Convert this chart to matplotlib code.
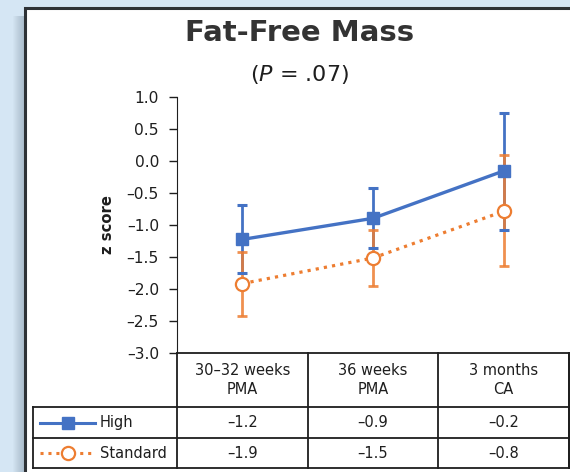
import numpy as np
import matplotlib.pyplot as plt
from matplotlib.patches import Rectangle

plt.rcParams['font.family'] = ['DejaVu Sans']
plt.rcParams['mathtext.fontset'] = 'dejavusans'

# data
categories = ['30\u201332 weeks\nPMA', '36 weeks\nPMA', '3 months\nCA']
groups = ['High', 'Standard']
high_mean = [-1.23, -0.90, -0.16]
high_lo = [-1.76, -1.37, -1.08]
high_hi = [-0.69, -0.43, 0.74]
std_mean = [-1.92, -1.52, -0.79]
std_lo = [-2.42, -1.95, -1.65]
std_hi = [-1.43, -1.09, 0.085]
yticks = [1.0, 0.5, 0.0, -0.5, -1.0, -1.5, -2.0, -2.5, -3.0]

BLUE = '#4472c4'
ORANGE = '#ed7d31'
TXT = '#1e1e1e'
W, H = 570, 472


def fx(px):
	return px / W


def fy(py):
	return 1 - py / H


def dash(v):
	return f'{v:.1f}'.replace('-', '\u2013')


fig = plt.figure(figsize=(W / 100, H / 100), dpi=100, facecolor='#d5e6f4')

# panel with a soft shadow on the left
for i in range(12):
	fig.add_artist(Rectangle((fx(13 + i), 0), fx(25 - 13 - i), fy(16), transform=fig.transFigure,
							 facecolor='#4e6276', alpha=0.028, lw=0, zorder=-3))
fig.add_artist(Rectangle((fx(25), -0.01), fx(W), fy(8) + 0.01, transform=fig.transFigure,
						 facecolor='white', edgecolor='#2e3236', lw=2.2, zorder=-2))

fig.text(fx(300), fy(33), 'Fat-Free Mass', ha='center', va='center',
		 fontsize=21, fontweight='bold', color='#333333')
fig.text(fx(300), fy(75), r'($\it{P}$ = .07)', ha='center', va='center', fontsize=16,
		 color=TXT)

# main plot
ax_l, ax_r, ax_t, ax_b = 177, 569, 96.7, 352.7
ax = fig.add_axes([fx(ax_l), fy(ax_b), fx(ax_r - ax_l), fy(ax_t) - fy(ax_b)])
ax.set_facecolor('none')
x = np.arange(len(categories))

hm = np.array(high_mean)
sm = np.array(std_mean)
h_err = [hm - np.array(high_lo), np.array(high_hi) - hm]
s_err = [sm - np.array(std_lo), np.array(std_hi) - sm]

_, hcaps, hbars = ax.errorbar(x, hm, yerr=h_err, fmt='none', ecolor=BLUE, elinewidth=2,
							  capsize=3.8, capthick=2.2, zorder=2)
ax.errorbar(x, sm, yerr=s_err, fmt='none', ecolor=ORANGE, elinewidth=2, alpha=0.85,
			capsize=3.5, capthick=2, zorder=3)
for c in hcaps:
	c.set_zorder(4)
ax.plot(x, sm, color=ORANGE, lw=2.3, linestyle=(0, (1, 1.6)), zorder=3)
ax.plot(x, sm, 'o', color=ORANGE, mfc='white', mew=1.6, ms=9.5, zorder=5)
ax.plot(x, hm, color=BLUE, lw=2.4, marker='s', ms=8, zorder=6)

ax.set_xlim(-0.5, 2.5)
ax.set_ylim(-3, 1)
ax.set_xticks([])
ax.set_yticks(yticks)
ax.set_yticklabels([dash(v) for v in yticks])
ax.tick_params(axis='y', length=6, width=1, pad=7, labelsize=11.2, color=TXT, labelcolor=TXT)
for s in ['top', 'right']:
	ax.spines[s].set_visible(False)
ax.spines['left'].set_color(TXT)
ax.spines['bottom'].set_visible(False)
ax.set_ylabel('z score', fontsize=10.6, fontweight='bold', labelpad=8, color=TXT)

# table under the plot
tb_l, tb_r, tb_t, tb_b = 33, 568.5, 352.7, 468.3
row1_t, row2_t = 406.7, 438.3
col_w = (ax_r - ax_l) / len(categories)
x0 = -0.5 - (ax_l - tb_l) / col_w
x1 = -0.5 + (tb_r - ax_l) / col_w
tab = fig.add_axes([fx(tb_l), fy(tb_b), fx(tb_r - tb_l), fy(tb_t) - fy(tb_b)])
tab.set_xlim(x0, x1)
tab.set_ylim(tb_b, tb_t)
tab.axis('off')


def tx(px):
	return x0 + (px - tb_l) / col_w


kw = dict(color=TXT, lw=1.3, clip_on=False)
tab.plot([-0.5, x1], [tb_t, tb_t], **kw)
tab.plot([x0, x1], [row1_t, row1_t], **kw)
tab.plot([x0, x1], [row2_t, row2_t], **kw)
tab.plot([x0, x1], [tb_b, tb_b], **kw)
tab.plot([x0, x0], [row1_t, tb_b], **kw)
for i in range(len(categories) + 1):
	tab.plot([i - 0.5, i - 0.5], [tb_t, tb_b], **kw)
tab.plot([x1, x1], [tb_t, tb_b], **kw)

for i, c in enumerate(categories):
	tab.text(i, (tb_t + row1_t) / 2 + 0.5, c, ha='center', va='center', fontsize=10.5,
			 linespacing=1.3, color=TXT)
	tab.text(i, (row1_t + row2_t) / 2, dash(high_mean[i]),
			 ha='center', va='center', fontsize=10.5, color=TXT)
	tab.text(i, (row2_t + tb_b) / 2, dash(std_mean[i]),
			 ha='center', va='center', fontsize=10.5, color=TXT)

# legend keys in the first column
ry = [(row1_t + row2_t) / 2, (row2_t + tb_b) / 2]
tab.plot([tx(40), tx(95)], [ry[0], ry[0]], color=BLUE, lw=2.2, clip_on=False)
tab.plot([tx(68)], [ry[0]], 's', color=BLUE, ms=8, clip_on=False)
tab.plot([tx(40), tx(95)], [ry[1], ry[1]], color=ORANGE, lw=2.2,
		 linestyle=(0, (1, 1.6)), clip_on=False)
tab.plot([tx(68)], [ry[1]], 'o', color=ORANGE, mfc='white', mew=1.6, ms=9.5, clip_on=False)
tab.text(tx(100), ry[0], groups[0], ha='left', va='center', fontsize=10.5, color=TXT)
tab.text(tx(100), ry[1], groups[1], ha='left', va='center', fontsize=10.5, color=TXT)

fig.savefig('out.png', dpi=100, facecolor=fig.get_facecolor())
